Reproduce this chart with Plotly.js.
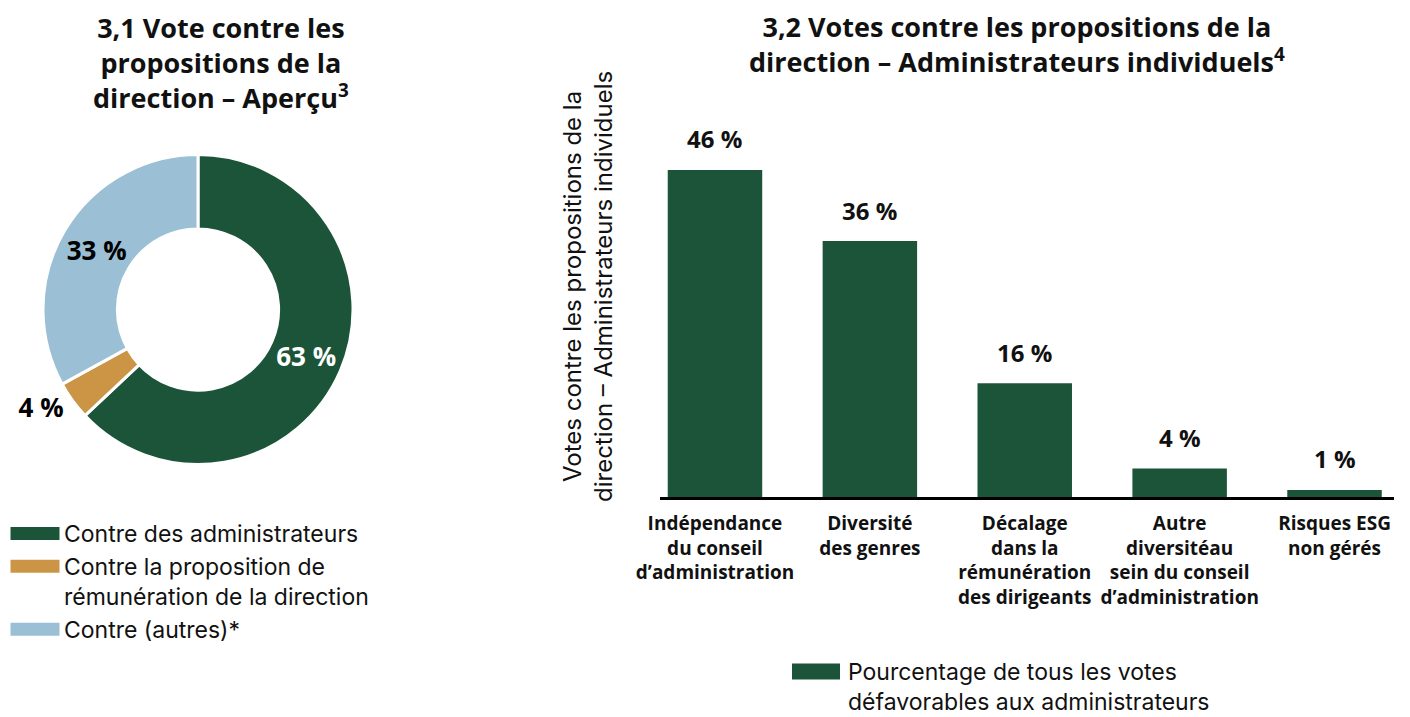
<!DOCTYPE html>
<html>
<head>
<meta charset="utf-8">
<script src="https://cdn.plot.ly/plotly-3.0.1.min.js"></script>
<style>
html,body{margin:0;padding:0;background:#fff;}
#chart{width:1410px;height:717px;}
</style>
</head>
<body>
<div id="chart"></div>
<script>
// ---- Donut (3,1) ----
const pieLabels = [
  "Contre des administrateurs",
  "Contre la proposition de<br>rémunération de la direction",
  "Contre (autres)*"
];
const pieValues = [63, 4, 33];
const pieText = ["63 %", "4 %", "33 %"];
const pieColors = ["#1c5439", "#cc9545", "#9bbfd5"];

// ---- Bars (3,2) ----
const barCategories = [
  "Indépendance<br>du conseil<br>d’administration",
  "Diversité<br>des genres",
  "Décalage<br>dans la<br>rémunération<br>des dirigeants",
  "Autre<br>diversitéau<br>sein du conseil<br>d’administration",
  "Risques ESG<br>non gérés"
];
const barValues = [46, 36, 16, 4, 1];
const barText = ["46 %", "36 %", "16 %", "4 %", "1 %"];
const barSeriesName = "Pourcentage de tous les votes<br>défavorables aux administrateurs";

const GREEN = "#1c5439";
const REG = "Inter, 'Noto Sans', sans-serif";
const BOLD = "'Open Sans', Inter, sans-serif";

const pie = {
  type: "pie",
  labels: pieLabels,
  values: pieValues,
  text: pieText,
  textinfo: "text",
  hoverinfo: "label+value",
  sort: false,
  direction: "clockwise",
  rotation: 0,
  hole: 0.52,
  marker: {colors: pieColors, line: {color: "#ffffff", width: 3}},
  textposition: ["inside", "outside", "inside"],
  insidetextorientation: "horizontal",
  insidetextfont: {family: BOLD, size: 26, color: ["#ffffff", "#000000", "#000000"], weight: 700},
  outsidetextfont: {family: BOLD, size: 26, color: "#000000", weight: 700},
  domain: {x: [43/1410, 353/1410], y: [1 - 466/717, 1 - 153/717]},
  legend: "legend",
  showlegend: true
};

const bar = {
  type: "bar",
  x: barCategories,
  y: barValues,
  name: barSeriesName,
  marker: {color: GREEN},
  width: 0.61,
  legend: "legend2",
  showlegend: true,
  hoverinfo: "x+y"
};

const annotations = [
  {text: "<b>3,1 Vote contre les<br>propositions de la<br>direction – Aperçu<sup>3</sup></b>",
   xref: "paper", yref: "paper", x: 221/1410, y: 1 - 7/717, xanchor: "center", yanchor: "top",
   showarrow: false, font: {family: BOLD, size: 27, color: "#111"}, align: "center"},
  {text: "<b>3,2 Votes contre les propositions de la<br>direction – Administrateurs individuels<sup>4</sup></b>",
   xref: "paper", yref: "paper", x: 1017/1410, y: 1 - 6/717, xanchor: "center", yanchor: "top",
   showarrow: false, font: {family: BOLD, size: 27, color: "#111"}, align: "center"},
  {text: "Votes contre les propositions de la<br>direction – Administrateurs individuels",
   xref: "paper", yref: "paper", x: 588/1410, y: 1 - 287/717, xanchor: "center", yanchor: "middle",
   textangle: -90, showarrow: false, font: {family: REG, size: 24, color: "#111"}, align: "center"}
];
barCategories.forEach((c, i) => {
  annotations.push({
    text: "<b>" + barText[i] + "</b>", x: c, y: barValues[i], xref: "x", yref: "y",
    yshift: 31, showarrow: false, yanchor: "middle",
    font: {family: BOLD, size: 24, color: "#111"}
  });
});

const layout = {
  width: 1410, height: 717,
  margin: {l: 0, r: 0, t: 0, b: 0},
  paper_bgcolor: "#ffffff", plot_bgcolor: "#ffffff",
  showlegend: true,
  xaxis: {
    domain: [660/1410, 1394/1410],
    range: [-0.355, 4.384],
    type: "category",
    showline: true, linecolor: "#000000", linewidth: 3,
    ticks: "", showgrid: false, zeroline: false,
    ticklabelstandoff: 7,
    tickfont: {family: BOLD, size: 19, color: "#111", weight: 700},
    fixedrange: true
  },
  yaxis: {
    domain: [1 - 497/717, 1 - 141.5/717],
    range: [0, 50],
    showticklabels: false, showgrid: false, zeroline: false, showline: false, ticks: "",
    fixedrange: true
  },
  legend: {
    x: 6/1410, y: 1 - 512/717, xanchor: "left", yanchor: "top",
    font: {family: REG, size: 23, color: "#111"},
    itemwidth: 48, valign: "top", tracegroupgap: 0, bgcolor: "rgba(0,0,0,0)",
    itemclick: false, itemdoubleclick: false
  },
  legend2: {
    x: 784/1410, y: 0, xanchor: "left", yanchor: "bottom",
    font: {family: REG, size: 23, color: "#111"},
    itemwidth: 54, valign: "top", bgcolor: "rgba(0,0,0,0)",
    itemclick: false, itemdoubleclick: false
  },
  annotations: annotations
};

Plotly.newPlot("chart", [pie, bar], layout, {displayModeBar: false, staticPlot: true}).then(gd => {
  // widen legend swatches into rectangles
  gd.querySelectorAll(".legendpoints path").forEach(p => {
    const isBar = p.closest(".legend2") !== null;
    p.setAttribute("d", isBar ? "M-24,-8H24V8H-24Z" : "M-26,-8H26V8H-26Z");
  });
  // nudge the lower legend down a little toward the page foot like the reference
  const lg2 = gd.querySelector("g.legend2");
  if (lg2) {
    const t = lg2.getAttribute("transform") || "";
    const m = t.match(/translate\(\s*([-\d.]+)[ ,]+([-\d.]+)\s*\)/);
    if (m) lg2.setAttribute("transform", "translate(" + m[1] + "," + (parseFloat(m[2]) + 6) + ")");
  }
});
</script>
</body>
</html>
